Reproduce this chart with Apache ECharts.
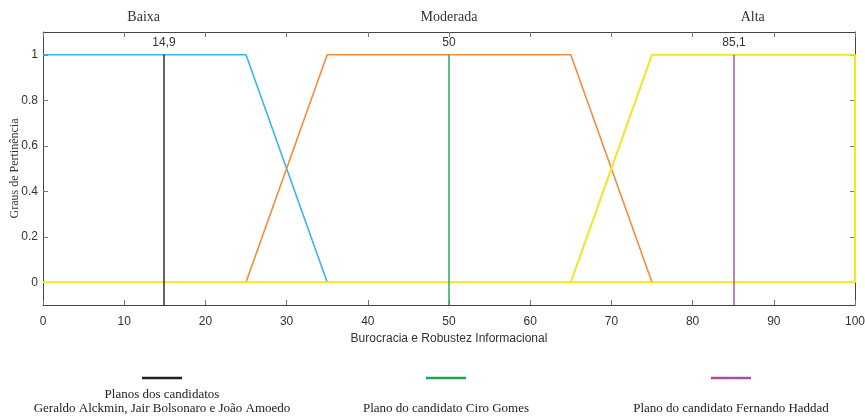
<!DOCTYPE html>
<html><head><meta charset="utf-8">
<script src="https://cdn.jsdelivr.net/npm/echarts@6/dist/echarts.min.js"></script>
<style>html,body{margin:0;padding:0;background:#fff}#c{width:865px;height:417px}</style>
</head><body><div id="c"></div>
<script>
// Membership functions (x, y)
const baixaX = [0, 25, 35];
const baixaY = [1, 1, 0];
const moderadaX = [25, 35, 65, 75];
const moderadaY = [0, 1, 1, 0];
const altaX = [0, 65, 75, 100, 100, 65];
const altaY = [0, 0, 1, 1, 0, 0];
const setNames = ['Baixa', 'Moderada', 'Alta'];
const setCenters = [12.4, 50, 87.4];
// Candidate plans
const planValues = [14.9, 50, 85.1];
const planNames = ['Planos dos candidatos\nGeraldo Alckmin, Jair Bolsonaro e João Amoedo',
  'Plano do candidato Ciro Gomes', 'Plano do candidato Fernando Haddad'];
const planColors = ['#222222', '#1fa455', '#a8509b'];
const xTicks = [0, 10, 20, 30, 40, 50, 60, 70, 80, 90, 100];
const yTicks = [0, 0.2, 0.4, 0.6, 0.8, 1];

const zip = (xs, ys) => xs.map((x, i) => [x, ys[i]]);
const chart = echarts.init(document.getElementById('c'), null, {renderer: 'canvas'});
const L = 43, R = 855, T = 32, B = 305;
const xToPx = v => L + (v / 100) * (R - L);

const sans = 'Liberation Sans, Arial, sans-serif';
const serif = 'Liberation Serif, Times New Roman, serif';
const axisCol = '#444';

const xBase = {
  type: 'value', min: 0, max: 100,
  axisLine: {show: true, onZero: false, lineStyle: {color: axisCol, width: 1}},
  axisTick: {show: true, inside: true, length: 5, customValues: xTicks, lineStyle: {color: '#777'}},
  splitLine: {show: false}
};
const yBase = {
  type: 'value', min: -0.1, max: 1.1,
  axisLine: {show: true, onZero: false, lineStyle: {color: axisCol, width: 1}},
  axisTick: {show: true, inside: true, length: 5, customValues: yTicks, lineStyle: {color: '#777'}},
  splitLine: {show: false}
};

const series = [
  {type: 'line', data: zip(baixaX, baixaY), symbol: 'none', lineStyle: {color: '#3bb6ea', width: 1.6}, z: 2},
  {type: 'line', data: zip(moderadaX, moderadaY), symbol: 'none', lineStyle: {color: '#f68b3a', width: 1.6}, z: 2},
  {type: 'line', data: zip(altaX, altaY), symbol: 'none', lineStyle: {color: '#f2e52e', width: 2.2}, z: 3}
];
planValues.forEach((v, i) => {
  series.push({
    type: 'line', z: 4, symbol: 'circle', symbolSize: 0.1, showSymbol: true,
    itemStyle: {color: planColors[i]},
    lineStyle: {color: planColors[i], width: 1.4},
    data: [[v, -0.1], {value: [v, 1], label: {show: true, position: 'top', distance: 6,
      formatter: String(v).replace('.', ','), fontFamily: sans, fontSize: 12, color: '#333'}}]
  });
});

const graphic = [];
setNames.forEach((n, i) => {
  graphic.push({type: 'text', x: xToPx(setCenters[i]), y: 17,
    style: {text: n, font: '14px ' + serif, fill: '#333', align: 'center', verticalAlign: 'middle'}});
});
const legendCx = [162, 446, 731];
planNames.forEach((n, i) => {
  graphic.push({type: 'line', shape: {x1: legendCx[i] - 20, y1: 378, x2: legendCx[i] + 20, y2: 378},
    style: {stroke: planColors[i], lineWidth: 2.5}});
  graphic.push({type: 'text', x: legendCx[i], y: 416,
    style: {text: n, font: '13px ' + serif, fill: '#222', align: 'center', verticalAlign: 'bottom', lineHeight: 14}});
});

chart.setOption({
  animation: false,
  grid: {left: L, right: 865 - R, top: T, bottom: 417 - B, containLabel: false, outerBoundsMode: 'none'},
  xAxis: [
    Object.assign({}, xBase, {position: 'bottom',
      name: 'Burocracia e Robustez Informacional', nameLocation: 'middle', nameGap: 28, nameMoveOverlap: false,
      nameTextStyle: {fontFamily: sans, fontSize: 12, color: '#333'},
      axisLabel: {show: true, customValues: xTicks, margin: 11, fontFamily: sans, fontSize: 12, color: '#333'}}),
    Object.assign({}, xBase, {position: 'top', axisLabel: {show: false}})
  ],
  yAxis: [
    Object.assign({}, yBase, {position: 'left',
      name: 'Graus de Pertinência', nameLocation: 'middle', nameGap: 22, nameRotate: 90, nameMoveOverlap: false,
      nameTextStyle: {fontFamily: serif, fontSize: 12, color: '#333'},
      axisLabel: {show: true, customValues: yTicks, margin: 5, fontFamily: sans, fontSize: 12, color: '#333'}}),
    Object.assign({}, yBase, {position: 'right', axisLabel: {show: false}})
  ],
  series: series,
  graphic: graphic
});
</script></body></html>
